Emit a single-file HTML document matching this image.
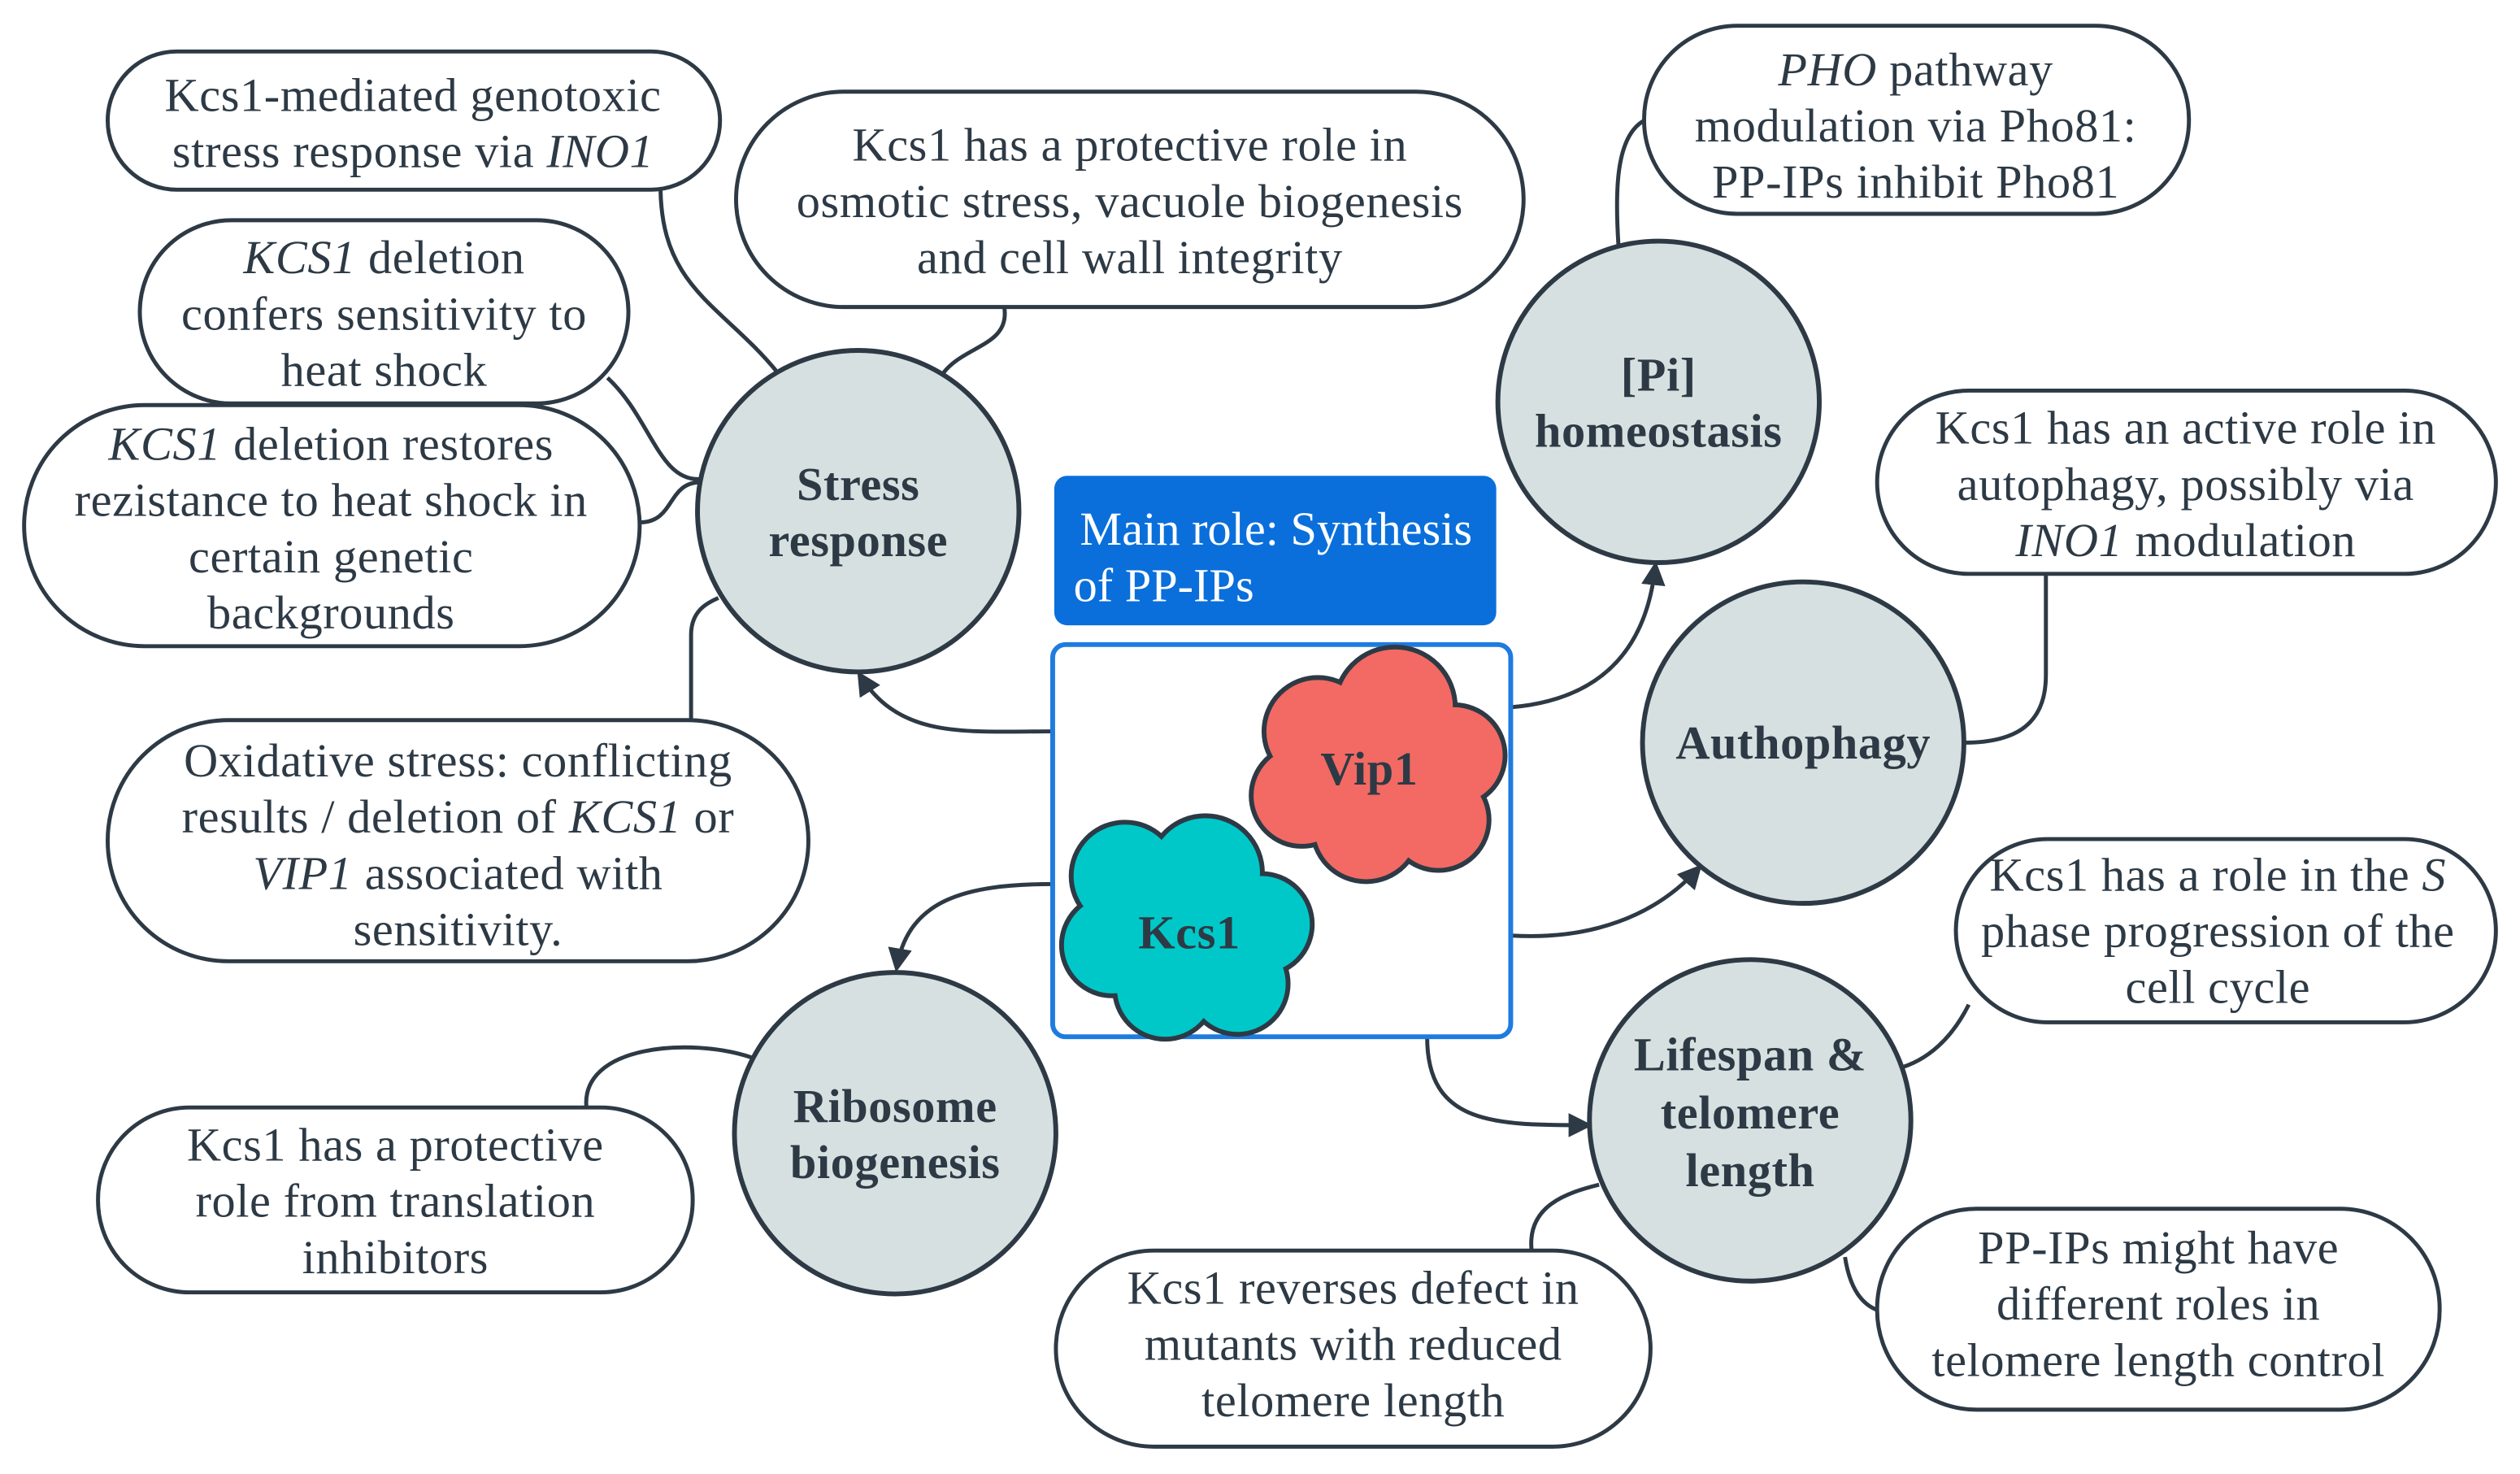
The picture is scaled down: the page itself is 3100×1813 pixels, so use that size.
<!DOCTYPE html>
<html><head><meta charset="utf-8"><style>
html,body{margin:0;padding:0;background:#fff;}
svg{display:block;}
text{font-family:"Liberation Serif",serif;fill:#2d3a45;}
.t{font-size:29.5px;text-anchor:middle;letter-spacing:0.3px;}
.c{font-size:29.5px;font-weight:bold;text-anchor:middle;letter-spacing:0.3px;}
.p{fill:#fff;stroke:#2d3a45;stroke-width:2.5;}
.k{fill:#d6e0e0;stroke:#2d3a45;stroke-width:3;}
.l{fill:none;stroke:#2d3a45;stroke-width:2.5;}
</style></head><body>
<svg width="3100" height="1813" viewBox="0 0 1568 917" xmlns="http://www.w3.org/2000/svg">
<defs><marker id="a" viewBox="0 0 10 10" refX="8" refY="5" markerWidth="6" markerHeight="6" orient="auto"><path d="M0,0L10,5L0,10z" fill="#2d3a45"/></marker></defs>
<path class="l" d="M411,118 C412,180 450,190 484,232"/>
<path class="l" d="M625,192 C628,215 600,215 587,232"/>
<path class="l" d="M378,235 C405,260 410,300 436,298"/>
<path class="l" d="M398,325 C420,325 415,300 436,300"/>
<path class="l" d="M430,448 L430,395 C430,380 440,375 447,372"/>
<path class="l" d="M1023,75 C1005,85 1005,120 1007,152"/>
<path class="l" d="M1273,357 L1273,420 C1273,450 1255,462 1222,462"/>
<path class="l" d="M1225,625 C1215,645 1200,660 1180,665"/>
<path class="l" d="M1168,815 C1155,810 1150,795 1148,782"/>
<path class="l" d="M953,778 C950,750 975,742 995,737"/>
<path class="l" d="M365,690 C360,650 430,645 468,658"/>
<path class="l" marker-end="url(#a)" d="M655,455 C600,455 560,460 535,420"/>
<path class="l" marker-end="url(#a)" d="M940,440 C1000,435 1025,400 1030,352"/>
<path class="l" marker-end="url(#a)" d="M655,550 C600,550 565,560 558,602"/>
<path class="l" marker-end="url(#a)" d="M940,582 C990,585 1030,570 1057,540"/>
<path class="l" marker-end="url(#a)" d="M888,645 C888,700 930,700 988,700"/>
<rect class="p" x="67" y="32" width="381" height="86" rx="43"/>
<text class="t" x="257" y="69">Kcs1-mediated genotoxic</text>
<text class="t" x="257" y="104">stress response via <tspan font-style="italic">INO1</tspan></text>
<rect class="p" x="458" y="57" width="490" height="134" rx="67"/>
<text class="t" x="703" y="100">Kcs1 has a protective role in</text>
<text class="t" x="703" y="135">osmotic stress, vacuole biogenesis</text>
<text class="t" x="703" y="170">and cell wall integrity</text>
<rect class="p" x="87" y="137" width="304" height="114" rx="57"/>
<text class="t" x="239" y="170"><tspan font-style="italic">KCS1</tspan> deletion</text>
<text class="t" x="239" y="205">confers sensitivity to</text>
<text class="t" x="239" y="240">heat shock</text>
<rect class="p" x="15" y="252" width="383" height="150" rx="75"/>
<text class="t" x="206" y="286"><tspan font-style="italic">KCS1</tspan> deletion restores</text>
<text class="t" x="206" y="321">rezistance to heat shock in</text>
<text class="t" x="206" y="356">certain genetic</text>
<text class="t" x="206" y="391">backgrounds</text>
<rect class="p" x="67" y="448" width="436" height="150" rx="75"/>
<text class="t" x="285" y="483">Oxidative stress: conflicting</text>
<text class="t" x="285" y="518">results / deletion of <tspan font-style="italic">KCS1</tspan> or</text>
<text class="t" x="285" y="553"><tspan font-style="italic">VIP1</tspan> associated with</text>
<text class="t" x="285" y="588">sensitivity.</text>
<rect class="p" x="1023" y="16" width="339" height="117" rx="58"/>
<text class="t" x="1192" y="53"><tspan font-style="italic">PHO</tspan> pathway</text>
<text class="t" x="1192" y="88">modulation via Pho81:</text>
<text class="t" x="1192" y="123">PP-IPs inhibit Pho81</text>
<rect class="p" x="1168" y="243" width="385" height="114" rx="57"/>
<text class="t" x="1360" y="276">Kcs1 has an active role in</text>
<text class="t" x="1360" y="311">autophagy, possibly via</text>
<text class="t" x="1360" y="346"><tspan font-style="italic">INO1</tspan> modulation</text>
<rect class="p" x="1217" y="522" width="336" height="114" rx="57"/>
<text class="t" x="1380" y="554">Kcs1 has a role in the <tspan font-style="italic">S</tspan></text>
<text class="t" x="1380" y="589">phase progression of the</text>
<text class="t" x="1380" y="624">cell cycle</text>
<rect class="p" x="1168" y="752" width="350" height="125" rx="62"/>
<text class="t" x="1343" y="786">PP-IPs might have</text>
<text class="t" x="1343" y="821">different roles in</text>
<text class="t" x="1343" y="856">telomere length control</text>
<rect class="p" x="657" y="778" width="370" height="122" rx="61"/>
<text class="t" x="842" y="811">Kcs1 reverses defect in</text>
<text class="t" x="842" y="846">mutants with reduced</text>
<text class="t" x="842" y="881">telomere length</text>
<rect class="p" x="61" y="689" width="370" height="115" rx="57"/>
<text class="t" x="246" y="722">Kcs1 has a protective</text>
<text class="t" x="246" y="757">role from translation</text>
<text class="t" x="246" y="792">inhibitors</text>
<circle class="k" cx="534" cy="318" r="100"/>
<text class="c" x="534" y="311">Stress</text><text class="c" x="534" y="346">response</text>
<circle class="k" cx="1032" cy="250" r="100"/>
<text class="c" x="1032" y="243">[Pi]</text><text class="c" x="1032" y="278">homeostasis</text>
<circle class="k" cx="1122" cy="462" r="100"/>
<text class="c" x="1122" y="472">Authophagy</text>
<circle class="k" cx="557" cy="705" r="100"/>
<text class="c" x="557" y="698">Ribosome</text><text class="c" x="557" y="733">biogenesis</text>
<circle class="k" cx="1089" cy="697" r="100"/>
<text class="c" x="1089" y="666">Lifespan &amp;</text><text class="c" x="1089" y="702">telomere</text><text class="c" x="1089" y="738">length</text>
<rect x="656" y="296" width="275" height="93" rx="8" fill="#0a6fdb"/>
<text x="794" y="339" style="font-size:29.5px;fill:#fff;text-anchor:middle">Main role: Synthesis</text>
<text x="668" y="374" style="font-size:29.5px;fill:#fff">of PP-IPs</text>
<rect x="655" y="401" width="285" height="244" rx="8" fill="#fff" stroke="#1e7be0" stroke-width="3"/>
<g stroke="#2d3a45" stroke-width="6" fill="#2d3a45">
<circle cx="820" cy="455" r="32"/><circle cx="868" cy="440" r="36"/><circle cx="905" cy="470" r="30"/><circle cx="895" cy="510" r="30"/><circle cx="850" cy="515" r="32"/><circle cx="810" cy="495" r="30"/><circle cx="855" cy="478" r="40"/>
</g>
<g fill="#f26a63">
<circle cx="820" cy="455" r="32"/><circle cx="868" cy="440" r="36"/><circle cx="905" cy="470" r="30"/><circle cx="895" cy="510" r="30"/><circle cx="850" cy="515" r="32"/><circle cx="810" cy="495" r="30"/><circle cx="855" cy="478" r="40"/>
</g>
<g stroke="#2d3a45" stroke-width="6" fill="#2d3a45">
<circle cx="700" cy="545" r="32"/><circle cx="750" cy="543" r="34"/><circle cx="785" cy="575" r="30"/><circle cx="770" cy="612" r="30"/><circle cx="725" cy="615" r="30"/><circle cx="692" cy="588" r="30"/><circle cx="738" cy="578" r="40"/>
</g>
<g fill="#00c8c8">
<circle cx="700" cy="545" r="32"/><circle cx="750" cy="543" r="34"/><circle cx="785" cy="575" r="30"/><circle cx="770" cy="612" r="30"/><circle cx="725" cy="615" r="30"/><circle cx="692" cy="588" r="30"/><circle cx="738" cy="578" r="40"/>
</g>
<text class="c" x="852" y="488">Vip1</text>
<text class="c" x="740" y="590">Kcs1</text>
</svg>
</body></html>
